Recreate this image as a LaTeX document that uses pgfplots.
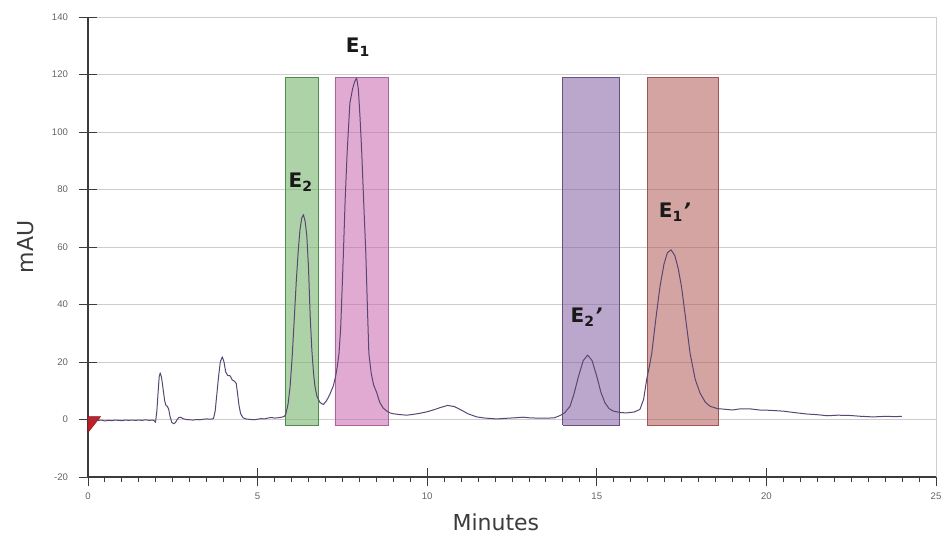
\documentclass[border=0pt]{standalone}
\usepackage{pgfplots}
\pgfplotsset{compat=1.18}
\usepackage{fontspec}
\setmainfont{DejaVu Sans}
\newfontfamily\tickfont{Liberation Sans}
\definecolor{trace}{RGB}{90,70,115}
\definecolor{gridc}{RGB}{205,205,205}
\definecolor{axc}{RGB}{60,60,60}
\definecolor{tickc}{RGB}{100,100,100}
\definecolor{gfill}{RGB}{120,180,110}
\definecolor{gdraw}{RGB}{80,140,75}
\definecolor{pfill}{RGB}{200,100,175}
\definecolor{pdraw}{RGB}{170,100,150}
\definecolor{vfill}{RGB}{130,95,160}
\definecolor{vdraw}{RGB}{105,80,130}
\definecolor{bfill}{RGB}{175,90,85}
\definecolor{bdraw}{RGB}{160,85,85}
\newcommand{\pk}[1]{E\textsubscript{#1}}
\newcommand{\pkp}[1]{E\textsubscript{#1}\kern0.01em{\itshape\bfseries '}}
\begin{document}
\begin{tikzpicture}
\useasboundingbox (0,0) rectangle (705.75pt,401.25pt);
\begin{axis}[
  at={(66pt,43.5pt)}, anchor=south west,
  scale only axis, width=636pt, height=345pt,
  xmin=0, xmax=25, ymin=-20, ymax=140,
  axis x line*=bottom, axis y line*=left,
  axis line style={axc, line width=0.8pt},
  xtick={0,5,...,25}, ytick={-20,0,...,140},
  minor x tick num=9,
  tick align=center,
  major tick length=14pt,
  minor tick length=3.4pt,
  minor tick style={yshift=-1.7pt},
  tick style={axc, line width=0.7pt},
  ymajorgrids, major grid style={gridc, line width=0.7pt},
  /pgf/number format/assume math mode=true,
  tick label style={font=\tickfont\fontsize{7.2}{8}\selectfont, text=tickc},
  yticklabel style={xshift=-4.5pt},
  xticklabel style={yshift=-1.5pt},
  xlabel={Minutes}, ylabel={mAU},
  label style={font=\fontsize{16.5}{20}\selectfont, text=axc},
  x label style={at={(axis description cs:0.481,-0.098)}, anchor=center},
  y label style={at={(axis description cs:-0.074,0.5)}, anchor=center},
  clip=false,
]
\addplot[gridc, line width=0.7pt] coordinates {(25,-20)(25,140)};
% shaded windows
\addplot[fill=gfill, fill opacity=0.6, draw=gdraw, line width=0.6pt] coordinates {(5.81,-2)(6.78,-2)(6.78,119)(5.81,119)(5.81,-2)};
\addplot[fill=pfill, fill opacity=0.55, draw=pdraw, line width=0.6pt] coordinates {(7.28,-2)(8.87,-2)(8.87,119)(7.28,119)(7.28,-2)};
\addplot[fill=vfill, fill opacity=0.55, draw=vdraw, line width=0.6pt] coordinates {(14.0,-2)(15.68,-2)(15.68,119)(14.0,119)(14.0,-2)};
\addplot[fill=bfill, fill opacity=0.55, draw=bdraw, line width=0.6pt] coordinates {(16.48,-2)(18.57,-2)(18.57,119)(16.48,119)(16.48,-2)};
% red marker
\addplot[fill={rgb,255:red,200;green,30;blue,35}, draw={rgb,255:red,140;green,20;blue,20}, line width=0.4pt] coordinates {(0,1)(0.37,1)(0,-4.5)(0,1)};
% trace
\addplot[trace, line width=0.75pt, line join=round] coordinates {
(0.00,-0.3)(0.1,-0.1)(0.2,0.0)(0.3,-0.3)(0.4,-0.2)(0.5,-0.5)(0.6,-0.3)(0.7,-0.4)(0.8,-0.2)(0.9,-0.3)(1.0,-0.4)(1.1,-0.2)(1.2,-0.3)(1.3,-0.2)(1.4,-0.3)(1.5,-0.2)(1.6,-0.3)(1.7,-0.1)(1.8,-0.3)(1.9,-0.2)(1.95,-0.4)(1.99,-1.0)(2.03,3)(2.07,10)(2.10,15)(2.13,16.2)(2.17,14.5)(2.21,11)(2.26,6.5)(2.30,4.8)(2.34,4.6)(2.38,3.5)(2.42,1)(2.47,-1)(2.53,-1.5)(2.58,-1)(2.63,0)(2.68,0.7)(2.73,0.8)(2.80,0.3)(2.9,0)(3.0,-0.1)(3.1,-0.2)(3.2,0)(3.3,-0.1)(3.4,0.1)(3.5,0.2)(3.6,0.1)(3.7,0.3)(3.75,3)(3.8,9)(3.85,15)(3.9,20)(3.96,21.8)(4.01,20)(4.06,16.5)(4.12,15.3)(4.19,15.2)(4.25,13.8)(4.32,13.3)(4.37,12.5)(4.41,9)(4.45,5)(4.5,2)(4.57,0.6)(4.65,0.2)(4.8,0)(4.9,-0.1)(5.0,0.1)(5.1,0.3)(5.2,0.2)(5.3,0.5)(5.4,0.7)(5.5,0.5)(5.6,0.6)(5.7,0.8)(5.78,1.0)(5.83,1.8)(5.9,5.5)(5.96,11.6)(6.02,22)(6.08,34.8)(6.14,48)(6.2,59)(6.25,66)(6.30,70)(6.35,71.3)(6.40,69)(6.45,64)(6.50,53)(6.55,36)(6.60,24)(6.65,16)(6.69,11.6)(6.75,8)(6.84,5.9)(6.94,5.2)(7.03,6.5)(7.12,8.5)(7.23,11.6)(7.3,15)(7.35,18.5)(7.40,23)(7.45,32)(7.50,48)(7.53,58)(7.58,76)(7.64,93)(7.72,110)(7.80,115)(7.86,117.5)(7.92,118.8)(7.97,115)(8.02,105)(8.07,93)(8.13,75)(8.19,58)(8.24,38)(8.28,23)(8.35,16)(8.42,12)(8.51,9.4)(8.6,6)(8.7,4)(8.8,3)(8.9,2.3)(9.0,2.0)(9.2,1.7)(9.4,1.5)(9.6,1.8)(9.8,2.2)(10.0,2.7)(10.2,3.4)(10.4,4.2)(10.6,4.9)(10.8,4.5)(10.97,3.5)(11.2,2)(11.46,0.9)(11.7,0.5)(12.05,0.2)(12.3,0.4)(12.6,0.6)(12.83,0.8)(13.0,0.6)(13.2,0.5)(13.52,0.45)(13.75,0.6)(13.92,1.4)(14.05,2.3)(14.21,4.6)(14.33,9)(14.46,15)(14.6,20.5)(14.73,22.4)(14.86,20.5)(15.0,15)(15.12,9.5)(15.24,5.8)(15.36,3.8)(15.49,2.9)(15.7,2.4)(15.88,2.3)(16.1,2.6)(16.27,3.5)(16.38,7)(16.47,13.9)(16.55,18.5)(16.62,23)(16.74,35)(16.86,46)(16.98,54)(17.08,58)(17.19,59)(17.3,57)(17.4,52.5)(17.5,46)(17.62,35)(17.75,23)(17.9,14)(18.04,9.3)(18.2,6)(18.34,4.6)(18.55,3.8)(18.83,3.5)(19.0,3.3)(19.22,3.7)(19.52,3.7)(19.8,3.3)(20.1,3.2)(20.5,2.9)(20.9,2.3)(21.2,1.9)(21.48,1.7)(21.8,1.3)(22.1,1.5)(22.46,1.4)(22.8,1.1)(23.15,0.9)(23.5,1.1)(23.8,1.0)(23.99,1.1)
};
% peak labels
\tikzset{pklab/.style={font=\fontsize{15}{17}\selectfont\bfseries, text=black!90, inner sep=0pt}}
\node[pklab] at (axis cs:7.96,129.4) {\pk{1}};
\node[pklab] at (axis cs:6.27,82.4) {\pk{2}};
\node[pklab] at (axis cs:14.7,35.7) {\pkp{2}};
\node[pklab] at (axis cs:17.3,72) {\pkp{1}};
\end{axis}
\end{tikzpicture}
\end{document}
